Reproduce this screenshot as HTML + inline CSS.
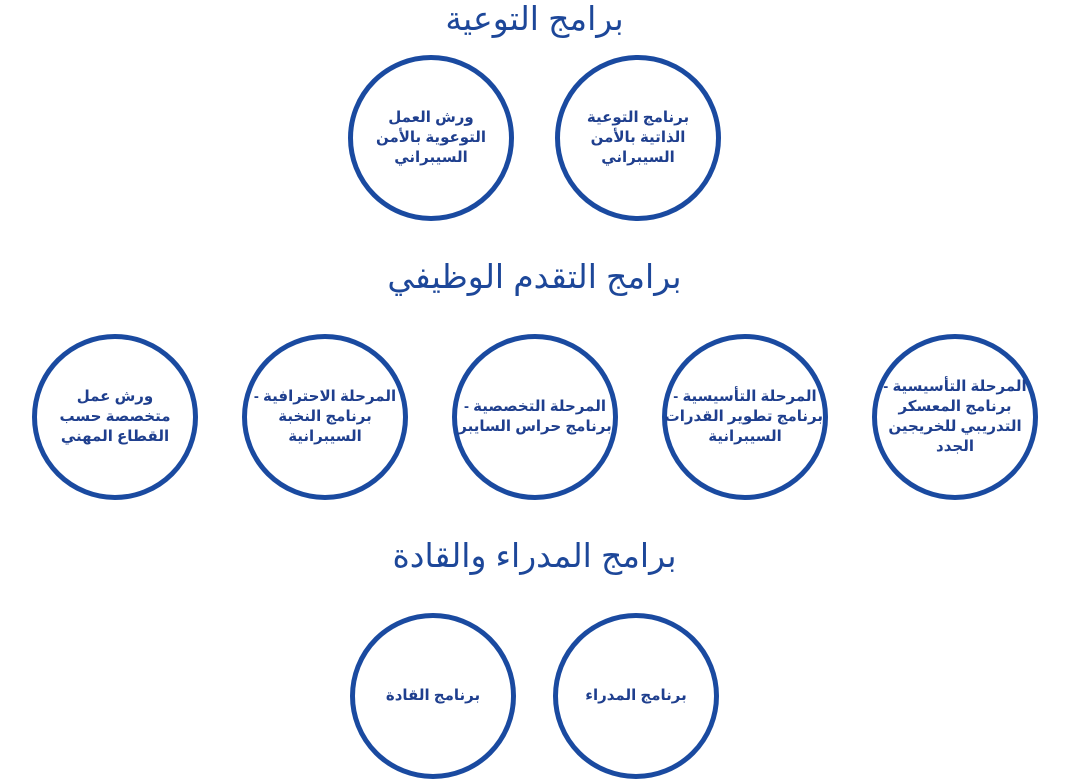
<!DOCTYPE html>
<html><head><meta charset="utf-8"><style>
body{margin:0;width:1069px;height:780px;background:#fff;position:relative;overflow:hidden;font-family:"Liberation Sans","Noto Sans CJK SC","DejaVu Sans",sans-serif;}
.t{position:absolute;left:0;width:1069px;text-align:center;color:#1d4799;font-size:33px;line-height:40px;direction:rtl;}
.c{position:absolute;width:156px;height:156px;border:5px solid #1a4aa0;border-radius:50%;box-sizing:content-box;display:flex;align-items:center;justify-content:center;text-align:center;direction:rtl;color:#1f3f8e;font-weight:bold;font-size:15px;line-height:20px;}
.c span{display:block;width:156px;white-space:nowrap;}
</style></head><body>
<div class="t" style="top:-1px">برامج التوعية</div>
<div class="t" style="top:257px">برامج التقدم الوظيفي</div>
<div class="t" style="top:536px">برامج المدراء والقادة</div>

<div class="c" style="left:348px;top:55px"><span>ورش العمل<br>التوعوية بالأمن<br>السيبراني</span></div>
<div class="c" style="left:555px;top:55px"><span>برنامج التوعية<br>الذاتية بالأمن<br>السيبراني</span></div>

<div class="c" style="left:32px;top:334px"><span>ورش عمل<br>متخصصة حسب<br>القطاع المهني</span></div>
<div class="c" style="left:242px;top:334px"><span>المرحلة الاحترافية -<br>برنامج النخبة<br>السيبرانية</span></div>
<div class="c" style="left:452px;top:334px"><span>المرحلة التخصصية -<br>برنامج حراس السايبر</span></div>
<div class="c" style="left:662px;top:334px"><span>المرحلة التأسيسية -<br>برنامج تطوير القدرات<br>السيبرانية</span></div>
<div class="c" style="left:872px;top:334px"><span>المرحلة التأسيسية -<br>برنامج المعسكر<br>التدريبي للخريجين<br>الجدد</span></div>

<div class="c" style="left:350px;top:613px"><span>برنامج القادة</span></div>
<div class="c" style="left:553px;top:613px"><span>برنامج المدراء</span></div>
</body></html>
